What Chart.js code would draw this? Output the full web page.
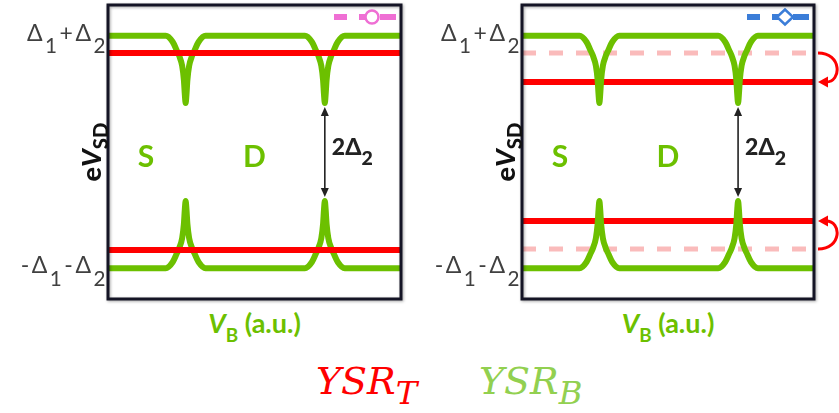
<!DOCTYPE html>
<html><head><meta charset="utf-8">
<script src="https://cdn.jsdelivr.net/npm/chart.js@4/dist/chart.umd.min.js"></script>
<style>
body{margin:0;width:839px;height:413px;position:relative;background:#fff;overflow:hidden;font-family:"Lato","Open Sans",sans-serif;}
canvas{position:absolute;top:0;}
.lbl{position:absolute;white-space:nowrap;line-height:1;}
.sb{position:relative;top:0.5em;font-size:0.85em;}
.tick{font-size:23px;color:#404040;letter-spacing:2.5px;}
.tick .sb{top:0.6em;font-size:0.9em;}
.ylab{font-size:27px;font-weight:900;color:#111;}
.reg{font-size:30px;font-weight:bold;color:#6cc000;}
.gap{font-size:23px;font-weight:900;color:#222;}
.xlab{font-size:27px;font-weight:bold;color:#6cc000;}
.leg{font-family:"DejaVu Serif",serif;font-style:italic;font-size:38px;}
</style></head><body>
<canvas id="c1" width="310" height="305" style="left:100px"></canvas>
<canvas id="c2" width="325" height="305" style="left:514px"></canvas>
<script>
// ---- data (schematic units: x 0..100 across V_B, y 0..100 across eV_SD) ----
const greenX = [0, 19.7, 22.1, 23.4, 24.3, 25.3, 25.9, 26.23, 26.5, 26.77, 27.1, 27.7, 28.7, 29.6, 30.9, 33.3,
                67.2, 69.6, 70.9, 71.8, 72.8, 73.4, 73.73, 74.0, 74.27, 74.6, 75.2, 76.2, 77.1, 78.4, 80.8, 100];
const greenTopY = [89.5, 89.5, 87.4, 84.7, 82.7, 79.3, 74.5, 69.4, 66.7, 69.4, 74.5, 79.3, 82.7, 84.7, 87.4, 89.5,
                   89.5, 87.4, 84.7, 82.7, 79.3, 74.5, 69.4, 66.7, 69.4, 74.5, 79.3, 82.7, 84.7, 87.4, 89.5, 89.5];
const greenBottomY = [10.5, 10.5, 12.6, 15.3, 17.3, 20.7, 25.5, 30.6, 33.3, 30.6, 25.5, 20.7, 17.3, 15.3, 12.6, 10.5,
                      10.5, 12.6, 15.3, 17.3, 20.7, 25.5, 30.6, 33.3, 30.6, 25.5, 20.7, 17.3, 15.3, 12.6, 10.5, 10.5];
const redLeft = [83.7, 16.7];          // YSR_T levels, left panel
const redRight = [73.8, 26.5];         // YSR_T levels, right panel (shifted)
const redRightOld = [83.7, 17];        // previous YSR_T levels (dashed), right panel
const yTickValues = [89.5, 10.5];
const yTickLabels = ['Δ<span class="sb">1</span>+Δ<span class="sb">2</span>', '-Δ<span class="sb">1</span>-Δ<span class="sb">2</span>'];
const regionLabels = ['S', 'D'];
const regionX = [13, 50];
const regionY = 49;
const gapArrowX = 74;
const gapArrowY = [65.3, 34.7];

const GREEN = '#6cc000', RED = '#ff0000', PINK = 'rgba(245,120,120,0.5)';

function pts(ys, xs) { return (xs || greenX).map((x, i) => ({x: x, y: ys[i]})); }
function hline(v) { return [{x: 0, y: v}, {x: 100, y: v}]; }

function boxPlugin(opts) {
  return {
    id: 'deco',
    afterDraw(chart) {
      const ctx = chart.ctx, a = chart.chartArea, xs = chart.scales.x, ys = chart.scales.y;
      ctx.save();
      // gap arrow
      const ax = xs.getPixelForValue(gapArrowX);
      const y1 = ys.getPixelForValue(gapArrowY[0]), y2 = ys.getPixelForValue(gapArrowY[1]);
      ctx.strokeStyle = '#222'; ctx.fillStyle = '#222'; ctx.lineWidth = 1.6;
      ctx.beginPath(); ctx.moveTo(ax, y1 + 6); ctx.lineTo(ax, y2 - 6); ctx.stroke();
      ctx.beginPath(); ctx.moveTo(ax, y1); ctx.lineTo(ax - 4, y1 + 9); ctx.lineTo(ax + 4, y1 + 9); ctx.closePath(); ctx.fill();
      ctx.beginPath(); ctx.moveTo(ax, y2); ctx.lineTo(ax - 4, y2 - 9); ctx.lineTo(ax + 4, y2 - 9); ctx.closePath(); ctx.fill();
      // marker icon (top right)
      const my = a.top + 12, r = a.right;
      ctx.strokeStyle = opts.mColor; ctx.lineWidth = 6; ctx.lineCap = 'butt';
      ctx.beginPath(); ctx.moveTo(r - 67, my); ctx.lineTo(r - 54, my);
      ctx.moveTo(r - 42, my); ctx.lineTo(r - 34, my);
      ctx.moveTo(r - 21, my); ctx.lineTo(r - 5, my); ctx.stroke();
      ctx.lineWidth = 2.5; ctx.fillStyle = '#fff';
      const cx = r - 29;
      ctx.beginPath();
      if (opts.marker === 'circle') { ctx.arc(cx, my, 6.5, 0, Math.PI * 2); }
      else { ctx.moveTo(cx - 8, my); ctx.lineTo(cx, my - 7.5); ctx.lineTo(cx + 8, my); ctx.lineTo(cx, my + 7.5); ctx.closePath(); }
      ctx.fill(); ctx.stroke();
      // curved shift arrows
      if (opts.shift) {
        ctx.strokeStyle = RED; ctx.fillStyle = RED; ctx.lineWidth = 3;
        const pairs = [[redRightOld[0], redRight[0]], [redRightOld[1], redRight[1]]];
        pairs.forEach(p => {
          const ya = ys.getPixelForValue(p[0]), yb = ys.getPixelForValue(p[1]);
          ctx.beginPath(); ctx.moveTo(a.right + 4, ya);
          ctx.bezierCurveTo(a.right + 28, ya, a.right + 28, yb, a.right + 12, yb); ctx.stroke();
          ctx.beginPath(); ctx.moveTo(a.right + 4, yb); ctx.lineTo(a.right + 14, yb - 5.5); ctx.lineTo(a.right + 14, yb + 5.5); ctx.closePath(); ctx.fill();
        });
      }
      // frame
      ctx.shadowColor = 'rgba(0,0,0,0.35)'; ctx.shadowBlur = 3; ctx.shadowOffsetX = 1; ctx.shadowOffsetY = 1;
      ctx.strokeStyle = '#141425'; ctx.lineWidth = 3;
      ctx.strokeRect(a.left, a.top, a.right - a.left, a.bottom - a.top);
      ctx.restore();
    }
  };
}

function greenDS(ys, order) {
  return {data: pts(ys), borderColor: GREEN, borderWidth: 6, pointRadius: 0, cubicInterpolationMode: 'monotone',
          borderJoinStyle: 'bevel', borderCapStyle: 'butt', order: order};
}
function redDS(v, color, dash, order) {
  return {data: hline(v), borderColor: color, borderWidth: dash ? 5 : 6, borderDash: dash || [], pointRadius: 0, borderCapStyle: 'butt', order: order};
}

function makeChart(id, datasets, padding, opts) {
  return new Chart(document.getElementById(id), {
    type: 'line',
    data: {datasets: datasets},
    options: {
      responsive: false, animation: false, events: [],
      layout: {padding: padding},
      plugins: {legend: {display: false}, tooltip: {enabled: false}},
      scales: {x: {type: 'linear', min: 0, max: 100, display: false}, y: {min: 0, max: 100, display: false}}
    },
    plugins: [boxPlugin(opts)]
  });
}

const ch1 = makeChart('c1', [
  redDS(redLeft[0], RED, null, 1), redDS(redLeft[1], RED, null, 1),
  greenDS(greenTopY, 2), greenDS(greenBottomY, 2)
], {left: 8, top: 5, right: 9, bottom: 6}, {mColor: '#ef6fd4', marker: 'circle', shift: false});

const ch2 = makeChart('c2', [
  greenDS(greenTopY, 1), greenDS(greenBottomY, 1),
  redDS(redRight[0], RED, null, 2), redDS(redRight[1], RED, null, 2),
  redDS(redRightOld[0], PINK, [14, 13], 3), redDS(redRightOld[1], PINK, [14, 13], 3)
], {left: 8, top: 5, right: 25, bottom: 6}, {mColor: '#3b7dd8', marker: 'diamond', shift: true});

// ---- text overlays positioned from the chart scales ----
function lbl(html, cls, x, y, tf) {
  const d = document.createElement('div');
  d.className = 'lbl ' + cls; d.innerHTML = html;
  d.style.left = x + 'px'; d.style.top = y + 'px'; d.style.transform = tf;
  document.body.appendChild(d); return d;
}
[[ch1, 100], [ch2, 514]].forEach(([ch, off]) => {
  const xs = ch.scales.x, ys = ch.scales.y, a = ch.chartArea;
  yTickValues.forEach((v, i) => lbl(yTickLabels[i], 'tick', off + a.left, ys.getPixelForValue(v) - 4, 'translate(-100%,-50%)'));
  lbl('e<i>V</i><span class="sb" style="font-size:0.75em;top:0.35em">SD</span>', 'ylab', off + a.left - 18, ys.getPixelForValue(50), 'translate(-50%,-50%) rotate(-90deg)');
  regionLabels.forEach((t, i) => lbl(t, 'reg', off + xs.getPixelForValue(regionX[i]), ys.getPixelForValue(regionY), 'translate(-50%,-50%)'));
  lbl('2Δ<span class="sb">2</span>', 'gap', off + xs.getPixelForValue(gapArrowX) + 7, ys.getPixelForValue(52), 'translate(0,-50%)');
  lbl('<i>V</i><span class="sb" style="font-size:0.7em">B</span> (a.u.)', 'xlab', off + (a.left + a.right) / 2, a.bottom + 23, 'translate(-50%,-50%)');
});
lbl('YSR<span class="sb" style="font-size:0.85em;top:0.3em">T</span>', 'leg', 316, 381, 'translate(0,-50%)').style.color = RED;
lbl('YSR<span class="sb" style="font-size:0.85em;top:0.3em">B</span>', 'leg', 479, 381, 'translate(0,-50%)').style.color = '#92d050';
</script>
</body></html>
